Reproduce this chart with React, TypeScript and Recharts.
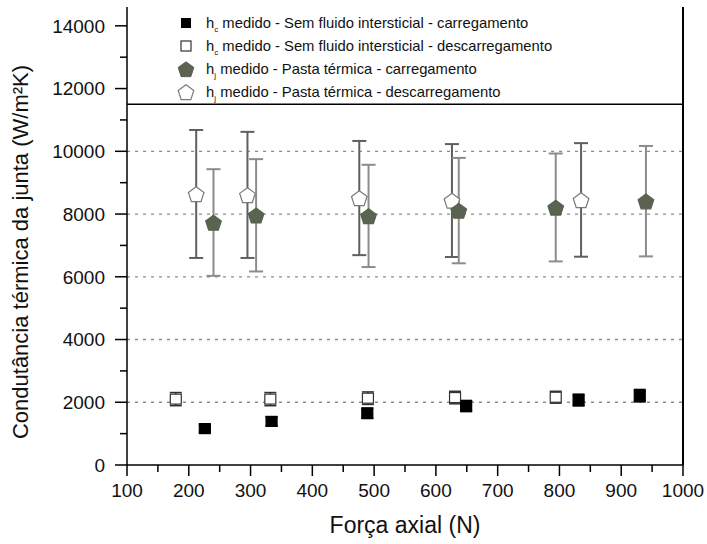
import React from 'react';
import { ScatterChart, Scatter, XAxis, YAxis, ErrorBar, ReferenceLine } from 'recharts';

// h_c medido - Sem fluido intersticial - carregamento (filled squares)
const hcLoadX = [226, 334, 489, 649, 831, 930];
const hcLoadY = [1160, 1390, 1650, 1880, 2070, 2210];
const hcLoadErr = [110, 140, 160, 170, 180, 190];

// h_c medido - Sem fluido intersticial - descarregamento (open squares)
const hcUnloadX = [179, 332, 490, 631, 794];
const hcUnloadY = [2100, 2100, 2130, 2150, 2160];
const hcUnloadErr = [210, 210, 200, 200, 190];

// h_j medido - Pasta térmica - carregamento (filled pentagons)
const hjLoadX = [240, 309, 491, 637, 794, 940];
const hjLoadY = [7730, 7960, 7940, 8110, 8210, 8410];
const hjLoadErr = [1700, 1790, 1630, 1680, 1720, 1760];

// h_j medido - Pasta térmica - descarregamento (open pentagons)
const hjUnloadX = [212, 295, 476, 626, 835];
const hjUnloadY = [8640, 8610, 8510, 8430, 8450];
const hjUnloadErr = [2040, 2010, 1820, 1800, 1810];

const xTicks = [100, 150, 200, 250, 300, 350, 400, 450, 500, 550, 600, 650, 700, 750, 800, 850, 900, 950, 1000];
const yTicksLeft = [0, 1000, 2000, 3000, 4000, 5000, 6000, 7000, 8000, 9000, 10000, 11000, 12000, 13000, 14000];
const yTicksRight = [0, 1000, 2000, 3000, 4000, 5000, 6000, 7000, 8000, 9000, 10000, 11000];
const gridValues = [2000, 4000, 6000, 8000, 10000];
const legendBottom = 11500;

const legendLabels = [
  { sub: 'c', text: ' medido - Sem fluido intersticial - carregamento' },
  { sub: 'c', text: ' medido - Sem fluido intersticial - descarregamento' },
  { sub: 'j', text: ' medido - Pasta térmica - carregamento' },
  { sub: 'j', text: ' medido - Pasta térmica - descarregamento' },
];

const FONT = '"Liberation Sans", Arial, sans-serif';
const PENT_FILL = '#59634f';

const toPoints = (xs: number[], ys: number[], es: number[]) =>
  xs.map((x, i) => ({ x, y: ys[i], err: es[i] }));

const hcLoad = toPoints(hcLoadX, hcLoadY, hcLoadErr);
const hcUnload = toPoints(hcUnloadX, hcUnloadY, hcUnloadErr);
const hjLoad = toPoints(hjLoadX, hjLoadY, hjLoadErr);
const hjUnload = toPoints(hjUnloadX, hjUnloadY, hjUnloadErr);

const pentPoints = (cx: number, cy: number, r: number) => {
  const pts: string[] = [];
  for (let i = 0; i < 5; i++) {
    const a = -Math.PI / 2 + (i * 2 * Math.PI) / 5;
    pts.push(`${cx + r * Math.cos(a)},${cy + r * Math.sin(a)}`);
  }
  return pts.join(' ');
};

const Pentagon = ({ cx, cy, filled }: any) => (
  <polygon
    points={pentPoints(cx, cy + 1, 8.2)}
    fill={filled ? PENT_FILL : '#ffffff'}
    stroke={filled ? PENT_FILL : '#7a7a7a'}
    strokeWidth={1.2}
  />
);

const Square = ({ cx, cy, filled }: any) => (
  <rect
    x={cx - 5.5}
    y={cy - 5}
    width={11}
    height={10}
    fill={filled ? '#000' : '#fff'}
    stroke={filled ? '#000' : '#333'}
    strokeWidth={1.2}
  />
);

const LeftTick = ({ x, y, payload }: any) => {
  const major = payload.value % 2000 === 0;
  const len = major ? 12 : 7;
  return (
    <g>
      <line x1={x} x2={x - len} y1={y} y2={y} stroke="#000" strokeWidth={1.5} />
      {major && (
        <text x={x - 22} y={y} dy="0.36em" textAnchor="end" fontSize={19} fontFamily={FONT} fill="#111">
          {payload.value}
        </text>
      )}
    </g>
  );
};

const RightTick = ({ x, y, payload }: any) => {
  const major = payload.value % 2000 === 0;
  const len = major ? 12 : 6;
  return <line x1={x} x2={x - len} y1={y} y2={y} stroke="#000" strokeWidth={1.5} />;
};

const BottomTick = ({ x, y, payload }: any) => {
  const major = payload.value % 100 === 0;
  const len = major ? 11 : 7;
  return (
    <g>
      <line x1={x} x2={x} y1={y} y2={y + len} stroke="#000" strokeWidth={1.5} />
      {major && (
        <text x={x} y={y + 32} textAnchor="middle" fontSize={19} fontFamily={FONT} fill="#111">
          {payload.value}
        </text>
      )}
    </g>
  );
};

const LegendOverlay = () => {
  const rows = [23, 46, 69, 92];
  const mx = 186;
  const tx = 206;
  return (
    <svg
      width={707}
      height={544}
      style={{ position: 'absolute', left: 0, top: 0, pointerEvents: 'none' }}
    >
      <rect x={mx - 5} y={rows[0] - 5} width={10} height={10} fill="#000" />
      <rect x={mx - 5} y={rows[1] - 5} width={10} height={10} fill="#fff" stroke="#333" strokeWidth={1.2} />
      <polygon points={pentPoints(mx, rows[2] + 1, 8.2)} fill={PENT_FILL} stroke={PENT_FILL} />
      <polygon points={pentPoints(mx, rows[3] + 1, 8.2)} fill="#fff" stroke="#7a7a7a" strokeWidth={1.2} />
      {legendLabels.map((l, i) => (
        <text key={i} x={tx} y={rows[i] + 5} fontSize={14.8} fontFamily={FONT} fill="#111">
          h
          <tspan dy={4} fontSize={8}>{l.sub}</tspan>
          <tspan dy={-4}>{l.text}</tspan>
        </text>
      ))}
      <text
        x={20}
        y={252}
        transform="rotate(-90 20 252)"
        textAnchor="middle"
        dy="0.36em"
        fontSize={22}
        fontFamily={FONT}
        fill="#111"
      >
        Condutância térmica da junta (W/m²K)
      </text>
      <text x={405} y={533} textAnchor="middle" fontSize={23} fontFamily={FONT} fill="#111">
        Força axial (N)
      </text>
    </svg>
  );
};

export default function App() {
  return (
    <div style={{ position: 'absolute', left: 0, top: 0, width: 707, height: 544, background: '#fff' }}>
      <ScatterChart width={707} height={544} margin={{ top: 7, right: 23, bottom: 0, left: 0 }}>
        <XAxis
          type="number"
          dataKey="x"
          domain={[100, 1000]}
          ticks={xTicks}
          interval={0}
          tickSize={0}
          tickMargin={0}
          tickLine={false}
          tick={<BottomTick />}
          height={79}
          axisLine={{ stroke: '#000', strokeWidth: 1.5 }}
          allowDataOverflow
        />
        <XAxis
          xAxisId="top"
          orientation="top"
          type="number"
          domain={[100, 1000]}
          height={0}
          tick={false}
          tickLine={false}
          axisLine={{ stroke: '#000', strokeWidth: 2 }}
        />
        <YAxis
          type="number"
          dataKey="y"
          domain={[0, 14600]}
          ticks={yTicksLeft}
          interval={0}
          tickSize={0}
          tickMargin={0}
          tickLine={false}
          tick={<LeftTick />}
          width={127}
          axisLine={{ stroke: '#000', strokeWidth: 1.5 }}
          allowDataOverflow
        />
        <YAxis
          yAxisId="right"
          orientation="right"
          type="number"
          domain={[0, 14600]}
          ticks={yTicksRight}
          interval={0}
          tickSize={0}
          tickMargin={0}
          tickLine={false}
          tick={<RightTick />}
          width={1}
          axisLine={{ stroke: '#000', strokeWidth: 2 }}
        />
        {gridValues.map((v) => (
          <ReferenceLine key={v} y={v} stroke="#8c8c8c" strokeWidth={1.3} strokeDasharray="3 5" />
        ))}
        <ReferenceLine y={legendBottom} stroke="#000" strokeWidth={1.5} />
        <Scatter data={hjUnload} isAnimationActive={false} shape={(p: any) => <Pentagon {...p} filled={false} />}>
          <ErrorBar dataKey="err" direction="y" width={7} stroke="#5f5f5f" strokeWidth={2} />
        </Scatter>
        <Scatter data={hjLoad} isAnimationActive={false} shape={(p: any) => <Pentagon {...p} filled />}>
          <ErrorBar dataKey="err" direction="y" width={7} stroke="#8c8c8c" strokeWidth={2} />
        </Scatter>
        <Scatter data={hcUnload} isAnimationActive={false} shape={(p: any) => <Square {...p} filled={false} />}>
          <ErrorBar dataKey="err" direction="y" width={6} stroke="#333" strokeWidth={1.5} />
        </Scatter>
        <Scatter data={hcLoad} isAnimationActive={false} shape={(p: any) => <Square {...p} filled />}>
          <ErrorBar dataKey="err" direction="y" width={6} stroke="#000" strokeWidth={2} />
        </Scatter>
      </ScatterChart>
      <LegendOverlay />
    </div>
  );
}
